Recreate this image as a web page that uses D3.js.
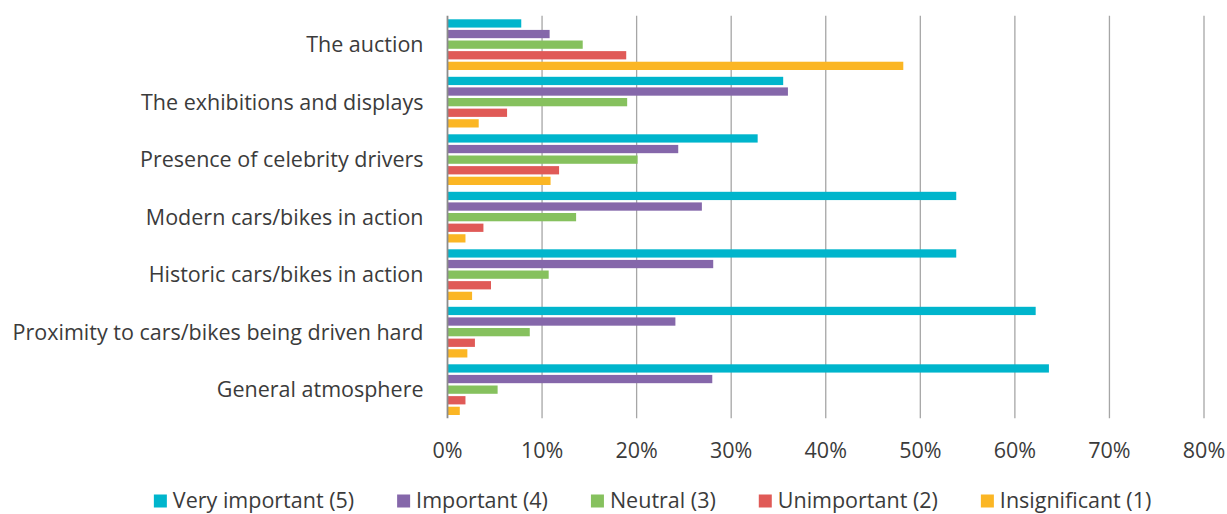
<!DOCTYPE html>
<meta charset="utf-8">
<style>
body { margin: 0; background: #fff; }
text { font-family: "Open Sans", sans-serif; fill: #3b3b3b; }
.grid line { stroke: #a6a6a6; stroke-width: 1.3px; }
</style>
<svg width="1227" height="514"></svg>
<script src="https://d3js.org/d3.v7.min.js"></script>
<script>

var categories = [
  "The auction",
  "The exhibitions and displays",
  "Presence of celebrity drivers",
  "Modern cars/bikes in action",
  "Historic cars/bikes in action",
  "Proximity to cars/bikes being driven hard",
  "General atmosphere"
];

var seriesNames = ["Very important (5)", "Important (4)", "Neutral (3)", "Unimportant (2)", "Insignificant (1)"];
var seriesColors = ["#00b5cc", "#8567aa", "#86c15e", "#e05a57", "#fbb624"];

// percent per category, in the order of categories above
var veryImportant = [7.8, 35.5, 32.8, 53.8, 53.8, 62.2, 63.6];
var important     = [10.8, 36.0, 24.4, 26.9, 28.1, 24.1, 28.0];
var neutral       = [14.3, 19.0, 20.1, 13.6, 10.7, 8.7, 5.3];
var unimportant   = [18.9, 6.3, 11.8, 3.8, 4.6, 2.9, 1.9];
var insignificant = [48.2, 3.3, 10.9, 1.9, 2.6, 2.1, 1.3];

var tickValues = [0, 10, 20, 30, 40, 50, 60, 70, 80];

var seriesValues = [veryImportant, important, neutral, unimportant, insignificant];

var svg = d3.select("svg");

var x = d3.scaleLinear().domain([0, 80]).range([447.5, 1204]);
var y0 = d3.scaleBand().domain(categories).range([15.7, 418.2]);
var y1 = d3.scaleBand().domain(seriesNames).range([3.6, 54.3]).paddingInner(0.22);

// gridlines
svg.append("g")
    .attr("class", "grid")
  .selectAll("line")
  .data(tickValues.slice(1))
  .enter().append("line")
    .attr("x1", function(d) { return x(d); })
    .attr("x2", function(d) { return x(d); })
    .attr("y1", 15.7)
    .attr("y2", 418.2);

// bars
var groups = svg.append("g")
  .selectAll("g")
  .data(categories)
  .enter().append("g")
    .attr("transform", function(d) { return "translate(0," + y0(d) + ")"; });

groups.selectAll("rect")
  .data(function(d, i) {
    return seriesNames.map(function(s, j) { return { s: s, j: j, v: seriesValues[j][i] }; });
  })
  .enter().append("rect")
    .attr("x", x(0))
    .attr("y", function(d) { return y1(d.s); })
    .attr("width", function(d) { return x(d.v) - x(0); })
    .attr("height", y1.bandwidth())
    .attr("fill", function(d) { return seriesColors[d.j]; });

// category axis line
svg.append("line")
    .attr("x1", x(0)).attr("x2", x(0))
    .attr("y1", 15.7).attr("y2", 418.2)
    .attr("stroke", "#8c8c8c")
    .attr("stroke-width", 1.8);

// category labels
svg.append("g")
  .selectAll("text")
  .data(categories)
  .enter().append("text")
    .attr("x", 423.5)
    .attr("y", function(d) { return y0(d) + y0.bandwidth() / 2; })
    .attr("dy", "0.36em")
    .attr("text-anchor", "end")
    .style("font-size", "21.5px")
    .text(function(d) { return d; });

// value axis labels
svg.append("g")
  .selectAll("text")
  .data(tickValues)
  .enter().append("text")
    .attr("x", function(d) { return x(d); })
    .attr("y", 457.7)
    .attr("text-anchor", "middle")
    .style("font-size", "21.5px")
    .text(function(d) { return d + "%"; });

// legend
var legend = svg.append("g");
var items = legend.selectAll("g")
  .data(seriesNames)
  .enter().append("g");

items.append("rect")
    .attr("width", 13)
    .attr("height", 13)
    .attr("y", 494.5)
    .attr("fill", function(d, i) { return seriesColors[i]; });

items.append("text")
    .attr("x", 19)
    .attr("y", 507.5)
    .style("font-size", "21.5px")
    .text(function(d) { return d; });

var widths = [];
items.each(function() { widths.push(this.getBBox().width); });
var gap = 43;
var total = d3.sum(widths) + gap * (widths.length - 1);
var lx = 652.6 - total / 2;
items.attr("transform", function(d, i) {
  var t = "translate(" + lx + ",0)";
  lx += widths[i] + gap;
  return t;
});

</script>
